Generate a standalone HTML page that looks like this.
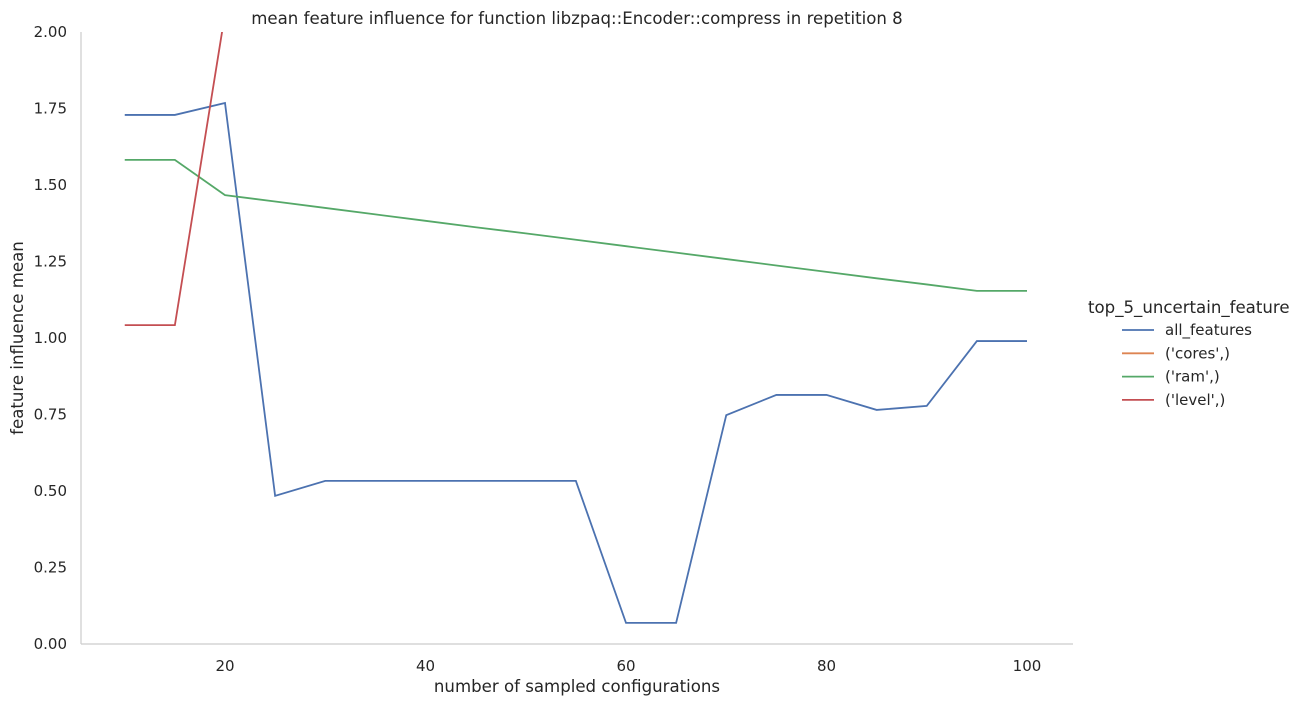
<!DOCTYPE html>
<html><head><meta charset="utf-8"><style>
body{margin:0;background:#fff;}
svg{display:block;font-family:"DejaVu Sans","Liberation Sans",sans-serif;}
</style></head><body>
<svg id="chart" width="1302" height="706">
<defs><clipPath id="plotclip"><rect x="81" y="32" width="992" height="612"/></clipPath></defs>
<text x="577" y="24" text-anchor="middle" font-size="16.6" fill="#262626">mean feature influence for function libzpaq::Encoder::compress in repetition 8</text>
<g id="axes"></g>
<g id="series" clip-path="url(#plotclip)"></g>
<text x="577" y="692" text-anchor="middle" font-size="16.6" fill="#262626">number of sampled configurations</text>
<text transform="translate(23,338) rotate(-90)" text-anchor="middle" font-size="16.6" fill="#262626">feature influence mean</text>
<g id="legend"></g>
</svg>
<script>
const xs = [10,15,20,25,30,35,40,45,50,55,60,65,70,75,80,85,90,95,100];
const allFeatures = [1.729,1.729,1.768,0.484,0.533,0.533,0.533,0.533,0.533,0.533,0.069,0.069,0.748,0.814,0.814,0.765,0.778,0.990,0.990];
const ramVals = [1.582,1.582,1.467,1.446,1.425,1.404,1.383,1.362,1.342,1.321,1.300,1.279,1.258,1.237,1.216,1.195,1.175,1.154,1.154];
const levelXs = [10,15,20];
const levelVals = [1.042,1.042,2.06];
const coresXs = [];
const coresVals = [];
const xTicks = [20,40,60,80,100];
const yTicks = [0,0.25,0.5,0.75,1.0,1.25,1.5,1.75,2.0];
const seriesNames = ["all_features","('cores',)","('ram',)","('level',)"];
const seriesColors = ["#4c72b0","#dd8452","#55a868","#c44e52"];

const NS="http://www.w3.org/2000/svg";
const X = v => 225 + (v-20)*(1027-225)/80;
const Y = v => 644 - v*306;
function mk(tag, attrs, parent){const e=document.createElementNS(NS,tag);for(const k in attrs)e.setAttribute(k,attrs[k]);parent.appendChild(e);return e;}
const axes=document.getElementById('axes');
let l=mk('line',{x1:81,y1:32,x2:81,y2:644,stroke:'#cccccc','stroke-width':1.2},axes);


l=mk('line',{x1:81,y1:644,x2:1073,y2:644,stroke:'#cccccc','stroke-width':1.2},axes);


xTicks.forEach(t=>{const e=mk('text',{x:X(t),y:671,'text-anchor':'middle','font-size':15,fill:'#262626'},axes);e.textContent=t;

});
yTicks.forEach(t=>{const e=mk('text',{x:67,y:Y(t)+5,'text-anchor':'end','font-size':15,fill:'#262626'},axes);e.textContent=t.toFixed(2);

});
const ser=document.getElementById('series');
function line(xv,yv,color,name){if(!xv.length)return;const p=mk('polyline',{points:xv.map((x,i)=>X(x)+','+Y(yv[i])).join(' '),fill:'none',stroke:color,'stroke-width':1.8},ser);

}
line(xs,allFeatures,seriesColors[0],'all-features-line');
line(coresXs,coresVals,seriesColors[1],'cores-line');
line(xs,ramVals,seriesColors[2],'ram-line');
line(levelXs,levelVals,seriesColors[3],'level-line');
const lg=document.getElementById('legend');
let t=mk('text',{x:1088,y:313,'font-size':16.6,fill:'#262626'},lg);t.textContent='top_5_uncertain_feature';


seriesNames.forEach((n,i)=>{const y=330+i*23.3;
const ln=mk('line',{x1:1122,y1:y,x2:1154,y2:y,stroke:seriesColors[i],'stroke-width':1.8},lg);


const tx=mk('text',{x:1165,y:y+5,'font-size':15,fill:'#262626'},lg);tx.textContent=n;

});
</script>
</body></html>
